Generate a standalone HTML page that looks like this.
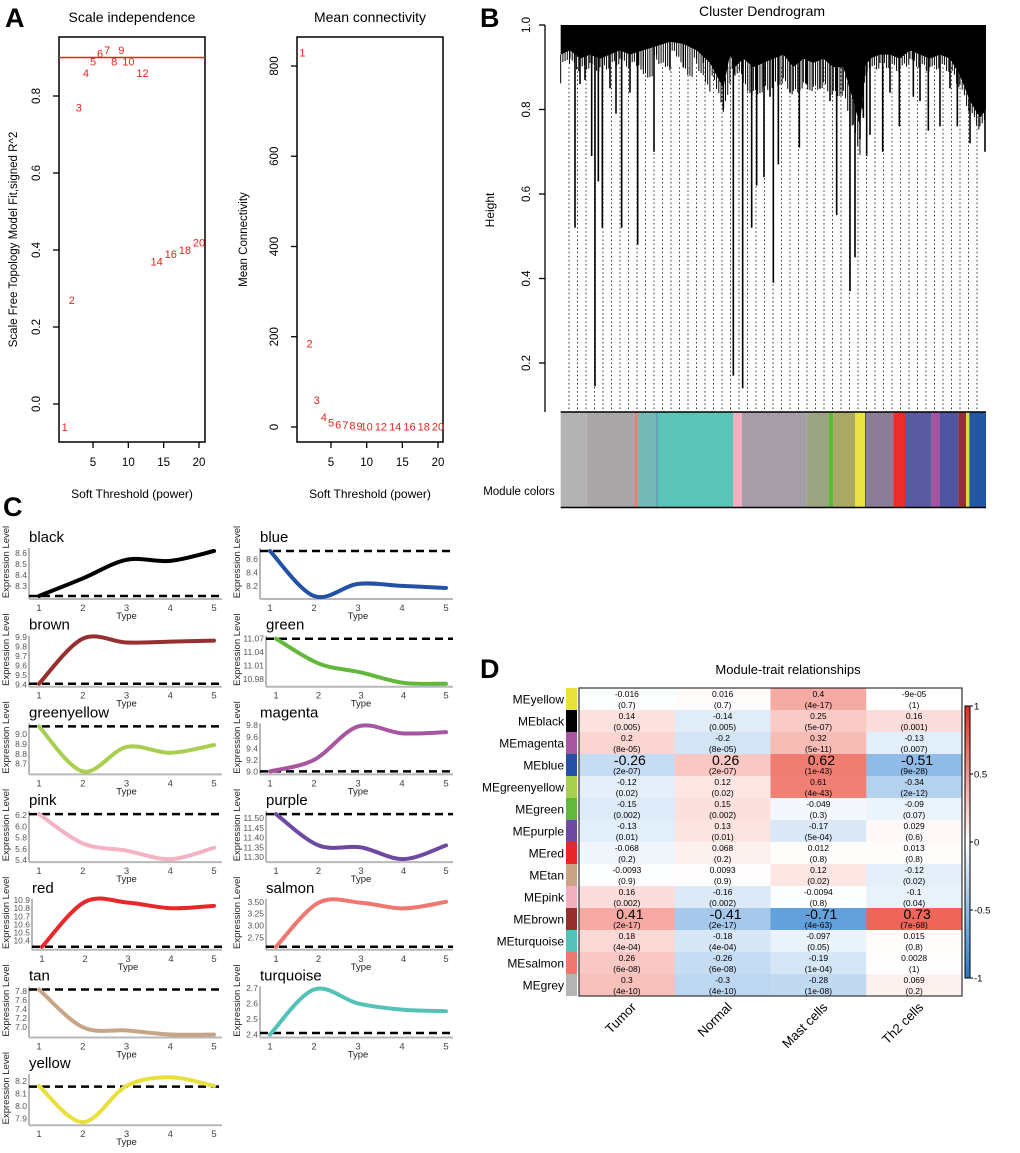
<!DOCTYPE html>
<html><head><meta charset="utf-8"><title>WGCNA figure</title>
<style>
html,body{margin:0;padding:0;background:#fff;}
svg{display:block;font-family:"Liberation Sans",Arial,sans-serif;}
</style></head>
<body>
<svg id="fig" width="1020" height="1153" viewBox="0 0 1020 1153" xmlns="http://www.w3.org/2000/svg">
<rect x="0" y="0" width="1020" height="1153" fill="#fff"/>
<text x="5" y="27" font-size="27" font-weight="bold">A</text>
<text x="480" y="27" font-size="27" font-weight="bold">B</text>
<text x="3" y="516" font-size="27" font-weight="bold">C</text>
<text x="480" y="678" font-size="27" font-weight="bold">D</text>
<g id="gA"></g>
<g id="gB"></g>
<g id="gC"></g>
<g id="gD"></g>
</svg>
<script>
// ---------- Panel A data ----------
const powers = [1,2,3,4,5,6,7,8,9,10,12,14,16,18,20];
const r2Values = [-0.06,0.27,0.77,0.86,0.89,0.91,0.92,0.89,0.92,0.89,0.86,0.37,0.39,0.40,0.42];
const connValues = [830,185,60,22,10,5,4,3,2,1.5,1.2,1,1,1,1];
const r2Ticks = [0.0,0.2,0.4,0.6,0.8];
const connTicks = [0,200,400,600,800];
const powerTicks = [5,10,15,20];
const r2Cutoff = 0.9;

// ---------- Panel B data ----------
const dropX = [375,790,818,910,1140,1155,503,315,397,455,1100,845,860,882,385,552,988,925,1190,1238,1500,1545,365,1375,1288,1410,1462,1200,760,438,330,345,420,480,600,640,700,900,960,1010,1050,1080,1260,1330,1350,1440,1520,1170,1180];
const dropH = [0.145,0.17,0.14,0.39,0.37,0.45,0.48,0.52,0.52,0.52,0.55,0.52,0.62,0.64,0.63,0.70,0.71,0.67,0.69,0.70,0.72,0.70,0.69,0.75,0.76,0.76,0.76,0.74,0.80,0.79,0.86,0.87,0.85,0.84,0.9,0.9,0.91,0.83,0.84,0.86,0.85,0.82,0.84,0.83,0.82,0.85,0.79,0.73,0.78];
const bandX = [272,300,330,360,390,420,450,480,520,560,600,640,680,720,760,780,795,820,850,880,910,940,970,1000,1030,1060,1090,1120,1150,1170,1185,1200,1230,1260,1290,1320,1350,1380,1410,1440,1470,1500,1530,1548];
const bandH = [0.93,0.94,0.92,0.93,0.92,0.93,0.94,0.93,0.94,0.95,0.96,0.955,0.94,0.91,0.85,0.93,0.9,0.92,0.9,0.91,0.92,0.93,0.9,0.92,0.91,0.92,0.9,0.9,0.82,0.76,0.9,0.92,0.93,0.93,0.92,0.94,0.93,0.92,0.93,0.92,0.88,0.82,0.78,0.8];
const heightTicks = [0.2,0.4,0.6,0.8,1.0];
const moduleStart = [272,350,495,503,560,562,790,815,1010,1075,1090,1155,1185,1187,1270,1305,1385,1408,1465,1488,1498];
const moduleColor = ["#b3b3b3","#aba7a8","#ee7770","#74b9b5","#2451a4","#5bc4b9","#f4aec0","#a69fa8","#9ca482","#62b83a","#aaa866","#eae442","#111111","#8d7c98","#ec2b2b","#5a5aa0","#a8539f","#4f55a0","#963030","#cfe040","#2456a6"];

// ---------- Panel C data ----------
const modNames = ["black","blue","brown","green","greenyellow","magenta","pink","purple","red","salmon","tan","turquoise","yellow"];
const modColors = ["#000000","#2451a4","#963030","#62b83a","#a9cf50","#a855a0","#f4b2c2","#6d4aa0","#e8272a","#ee7770","#c9a586","#55c2b8","#e8e03c"];
const exprBlack = [8.21,8.37,8.54,8.53,8.62];
const exprBlue = [8.72,8.05,8.23,8.2,8.17];
const exprBrown = [9.41,9.88,9.84,9.85,9.86];
const exprGreen = [11.07,11.015,10.995,10.972,10.97];
const exprGreenyellow = [9.08,8.62,8.87,8.81,8.89];
const exprMagenta = [9.0,9.2,9.78,9.66,9.68];
const exprPink = [6.22,5.7,5.57,5.42,5.62];
const exprPurple = [11.52,11.36,11.35,11.29,11.36];
const exprRed = [10.32,10.88,10.87,10.8,10.83];
const exprSalmon = [2.55,3.48,3.48,3.36,3.5];
const exprTan = [7.83,7.0,6.93,6.84,6.84];
const exprTurquoise = [2.4,2.69,2.6,2.56,2.55];
const exprYellow = [8.16,7.87,8.16,8.23,8.16];
const exprAll = [exprBlack,exprBlue,exprBrown,exprGreen,exprGreenyellow,exprMagenta,exprPink,exprPurple,exprRed,exprSalmon,exprTan,exprTurquoise,exprYellow];
const dashVals = [8.21,8.72,9.41,11.07,9.08,9.0,6.22,11.52,10.32,2.55,7.83,2.41,8.155];
const tickLabels = [["8.3","8.4","8.5","8.6"],["8.2","8.4","8.6"],["9.4","9.5","9.6","9.7","9.8","9.9"],["10.98","11.01","11.04","11.07"],["8.7","8.8","8.9","9.0"],["9.0","9.2","9.4","9.6","9.8"],["5.4","5.6","5.8","6.0","6.2"],["11.30","11.35","11.40","11.45","11.50"],["10.4","10.5","10.6","10.7","10.8","10.9"],["2.75","3.00","3.25","3.50"],["7.0","7.2","7.4","7.6","7.8"],["2.4","2.5","2.6","2.7"],["7.9","8.0","8.1","8.2"]];
const typeTicks = [1,2,3,4,5];

// ---------- Panel D data ----------
const meNames = ["MEyellow","MEblack","MEmagenta","MEblue","MEgreenyellow","MEgreen","MEpurple","MEred","MEtan","MEpink","MEbrown","MEturquoise","MEsalmon","MEgrey"];
const meColors = ["#e8e03c","#000000","#a855a0","#2451a4","#a9cf50","#62b83a","#6d4aa0","#e8272a","#c9a586","#f2afc0","#963030","#55c2b8","#ee7770","#b4b4b4"];
const traits = ["Tumor","Normal","Mast cells","Th2 cells"];
const corTumor = [-0.016,0.14,0.2,-0.26,-0.12,-0.15,-0.13,-0.068,-0.0093,0.16,0.41,0.18,0.26,0.3];
const corNormal = [0.016,-0.14,-0.2,0.26,0.12,0.15,0.13,0.068,0.0093,-0.16,-0.41,-0.18,-0.26,-0.3];
const corMast = [0.4,0.25,0.32,0.62,0.61,-0.049,-0.17,0.012,0.12,-0.0094,-0.71,-0.097,-0.19,-0.28];
const corTh2 = [-0.00009,0.16,-0.13,-0.51,-0.34,-0.09,0.029,0.013,-0.12,-0.1,0.73,0.015,0.0028,0.069];
const corLabelTh2 = ["-9e-05","0.16","-0.13","-0.51","-0.34","-0.09","0.029","0.013","-0.12","-0.1","0.73","0.015","0.0028","0.069"];
const pTumor = ["0.7","0.005","8e-05","2e-07","0.02","0.002","0.01","0.2","0.9","0.002","2e-17","4e-04","6e-08","4e-10"];
const pNormal = ["0.7","0.005","8e-05","2e-07","0.02","0.002","0.01","0.2","0.9","0.002","2e-17","4e-04","6e-08","4e-10"];
const pMast = ["4e-17","5e-07","5e-11","1e-43","4e-43","0.3","5e-04","0.8","0.02","0.8","4e-63","0.05","1e-04","1e-08"];
const pTh2 = ["1","0.001","0.007","9e-28","2e-12","0.07","0.6","0.8","0.02","0.04","7e-68","0.8","1","0.2"];
const bigRows = [3,10];
const scaleTicks = [1,0.5,0,-0.5,-1];

const NS="http://www.w3.org/2000/svg";
function mk(parent,tag,attrs,text){const e=document.createElementNS(NS,tag);for(const k in attrs)e.setAttribute(k,attrs[k]);if(text!==undefined)e.textContent=text;parent.appendChild(e);return e;}

// ================= Panel A =================
(function(){
  const g=document.getElementById('gA');
  function panel(x0,x1,y0,y1,xs,ys,vals,yTicks,title,ylab,ytx,ylx,nm){
    const gp=mk(g,'g',{});
    
    
    const r=mk(gp,'rect',{x:x0,y:y0,width:x1-x0,height:y1-y0,fill:'none',stroke:'#000','stroke-width':1.5});
    
    
    const t=mk(gp,'text',{x:(x0+x1)/2,y:22,'font-size':14,'text-anchor':'middle'},title);
    
    
    powerTicks.forEach(p=>{const x=xs(p);
      mk(gp,'line',{x1:x,x2:x,y1:y1,y2:y1+6,stroke:'#000','stroke-width':1.3});
      const tl=mk(gp,'text',{x:x,y:y1+24,'font-size':11.5,'text-anchor':'middle'},p);
      
      
    });
    yTicks.forEach(v=>{const y=ys(v);
      mk(gp,'line',{x1:x0,x2:x0-6,y1:y,y2:y,stroke:'#000','stroke-width':1.3});
      const tl=mk(gp,'text',{x:ytx,y:y,'font-size':11.5,'text-anchor':'middle',transform:`rotate(-90 ${ytx} ${y})`},String(v===0&&yTicks[1]<1?'0.0':v));
      
      
    });
    const xl=mk(gp,'text',{x:(x0+x1)/2,y:498,'font-size':12,'text-anchor':'middle'},'Soft Threshold (power)');
    
    
    const cy=(y0+y1)/2;
    const yl=mk(gp,'text',{x:ylx,y:cy,'font-size':11.5,'text-anchor':'middle',transform:`rotate(-90 ${ylx} ${cy})`},ylab);
    
    
    powers.forEach((p,i)=>{
      const tx=mk(gp,'text',{x:xs(p),y:ys(vals[i])+4,'font-size':11,'text-anchor':'middle',fill:'#e8231e'},p);
      
      
    });
    return gp;
  }
  const xs1=p=>93+(p-5)*106/15, ys1=v=>404-v*385;
  const p1=panel(59,205,37,442,xs1,ys1,r2Values,r2Ticks,'Scale independence','Scale Free Topology Model Fit,signed R^2',40,17,'scale-independence-plot');
  const cl=mk(p1,'line',{x1:59,x2:205,y1:ys1(r2Cutoff),y2:ys1(r2Cutoff),stroke:'#e8231e','stroke-width':1.5});
  
  
  const xs2=p=>331+(p-5)*107/15, ys2=v=>427-v*(361/800);
  panel(297,443,37,442,xs2,ys2,connValues,connTicks,'Mean connectivity','Mean Connectivity',278,247,'mean-connectivity-plot');
})();

// ================= Panel B =================
(function(){
  const g=document.getElementById('gB');
  const X=xz=>470+xz/3, Y=h=>25+(1-h)*422.5;
  const t=mk(g,'text',{x:762,y:16,'font-size':14,'text-anchor':'middle'},'Cluster Dendrogram');
  
  
  mk(g,'line',{x1:545,x2:545,y1:Y(1.0),y2:412,stroke:'#000','stroke-width':1.3});
  heightTicks.forEach(v=>{const y=Y(v);
    mk(g,'line',{x1:545,x2:539,y1:y,y2:y,stroke:'#000','stroke-width':1.3});
    const tl=mk(g,'text',{x:530,y:y,'font-size':11.5,'text-anchor':'middle',transform:`rotate(-90 530 ${y})`},v.toFixed(1));
    
    
  });
  const hl=mk(g,'text',{x:494,y:210,'font-size':12,'text-anchor':'middle',transform:'rotate(-90 494 210)'},'Height');
  
  
  // dotted leaf lines
  for(let xz=297;xz<=1546;xz+=25.5){
    mk(g,'line',{x1:X(xz),x2:X(xz),y1:Y(0.9),y2:410,stroke:'#333','stroke-width':1,'stroke-dasharray':'1.5,2.6'});
  }
  // dense top band
  let d=`M${X(272)},${Y(1.0)} `;
  bandX.forEach((xz,i)=>{d+=`L${X(xz)},${Y(bandH[i])} `;});
  d+=`L${X(1548)},${Y(1.0)} Z`;
  const band=mk(g,'path',{d:d,fill:'#000'});
  
  
  // stubs
  for(let i=0;i<bandX.length-1;i++){
    const xa=X(bandX[i]),xb=X(bandX[i+1]);
    for(let x=xa;x<xb;x+=2.2){
      const h=bandH[i]+(bandH[i+1]-bandH[i])*(x-xa)/(xb-xa);
      const off=((Math.floor(x*7)%5)*0.012);
      mk(g,'line',{x1:x,x2:x,y1:Y(h),y2:Y(h-0.02-off),stroke:'#000','stroke-width':1});
    }
  }
  dropX.forEach((xz,i)=>{
    const ln=mk(g,'line',{x1:X(xz),x2:X(xz),y1:Y(0.96),y2:Y(dropH[i]),stroke:'#000','stroke-width':1.6});
    
    
  });
  // color bar
  const ml=mk(g,'text',{x:519,y:495,'font-size':11.5,'text-anchor':'middle'},'Module colors');
  
  
  moduleStart.forEach((s,i)=>{
    const e=i<moduleStart.length-1?moduleStart[i+1]:1548;
    const r=mk(g,'rect',{x:X(s),y:412,width:Math.max(X(e)-X(s),0.6),height:95,fill:moduleColor[i]});
    
    
  });
  mk(g,'line',{x1:X(272),x2:X(1548),y1:412,y2:412,stroke:'#000','stroke-width':1.5});
  mk(g,'line',{x1:X(272),x2:X(1548),y1:507.5,y2:507.5,stroke:'#000','stroke-width':1.5});
})();

// ================= Panel C =================
(function(){
  const g=document.getElementById('gC');
  const longRight={green:1,purple:1,salmon:1};
  modNames.forEach((nm,k)=>{
    const col=k%2, row=Math.floor(k/2);
    const axisY=599+87.7*row, top=axisY-51;
    let axisX, x1p, right;
    if(col===0){axisX=nm==='red'?32:29; x1p=axisX+10; right=222;}
    else{axisX=longRight[nm]?266:260; x1p=axisX+10; right=453;}
    const x5p=col===0?214:446;
    const xs=t=>x1p+(t-1)*(x5p-x1p)/4;
    const vals=exprAll[k];
    let lo=Math.min(...vals,dashVals[k]), hi=Math.max(...vals,dashVals[k]);
    const ys=v=>axisY-3-(v-lo)/(hi-lo)*(axisY-3-top-3);
    const gp=mk(g,'g',{});
    
    
    const tt=mk(gp,'text',{x:axisX,y:axisY-57,'font-size':15},nm);
    
    
    mk(gp,'line',{x1:axisX,x2:axisX,y1:top,y2:axisY,stroke:'#b8b8b8','stroke-width':2});
    mk(gp,'line',{x1:axisX,x2:right,y1:axisY,y2:axisY,stroke:'#b8b8b8','stroke-width':2});
    tickLabels[k].forEach(s=>{const v=parseFloat(s);const y=ys(v);
      if(y<top-4||y>axisY+3)return;
      const tl=mk(gp,'text',{x:axisX-2,y:y+3,'font-size':8.5,'text-anchor':'end',fill:'#555'},s);
      
      
    });
    typeTicks.forEach(t=>{
      const tl=mk(gp,'text',{x:xs(t),y:axisY+12,'font-size':9.5,'text-anchor':'middle',fill:'#444'},t);
      
      
    });
    const tx=mk(gp,'text',{x:xs(3),y:axisY+20,'font-size':9.5,'text-anchor':'middle',fill:'#222'},'Type');
    
    
    const lx=col===0?9:240, ly=axisY-37;
    const el=mk(gp,'text',{x:lx,y:ly,'font-size':9.5,'text-anchor':'middle',fill:'#222',transform:`rotate(-90 ${lx} ${ly})`},'Expression Level');
    
    
    const dy=ys(dashVals[k]);
    const dl=mk(gp,'line',{x1:axisX,x2:right,y1:dy,y2:dy,stroke:'#000','stroke-width':2.5,'stroke-dasharray':'8,5'});
    
    
    const pts=vals.map((v,i)=>[xs(i+1),ys(v)]);
    let d=`M${pts[0][0]},${pts[0][1]}`;
    for(let i=0;i<pts.length-1;i++){
      const p0=pts[Math.max(i-1,0)],p1=pts[i],p2=pts[i+1],p3=pts[Math.min(i+2,pts.length-1)];
      const c1=[p1[0]+(p2[0]-p0[0])/6,p1[1]+(p2[1]-p0[1])/6];
      const c2=[p2[0]-(p3[0]-p1[0])/6,p2[1]-(p3[1]-p1[1])/6];
      d+=` C${c1[0]},${c1[1]} ${c2[0]},${c2[1]} ${p2[0]},${p2[1]}`;
    }
    const ln=mk(gp,'path',{d:d,fill:'none',stroke:modColors[k],'stroke-width':4,'stroke-linecap':'round'});
    
    
  });
})();

// ================= Panel D =================
(function(){
  const g=document.getElementById('gD');
  const x0=579,x1=962,y0=688,y1=996;
  const cw=(x1-x0)/4, rh=(y1-y0)/14;
  const cols=[corTumor,corNormal,corMast,corTh2];
  const ps=[pTumor,pNormal,pMast,pTh2];
  function color(v){
    const t=Math.min(Math.abs(v),1);
    const e=v>=0?[230,45,28]:[35,122,205];
    const c=e.map(c=>Math.round(255+(c-255)*t));
    return `rgb(${c[0]},${c[1]},${c[2]})`;
  }
  function fmt(v){return String(v);}
  const tt=mk(g,'text',{x:788,y:674,'font-size':13,'text-anchor':'middle'},'Module-trait relationships');
  
  
  meNames.forEach((nm,r)=>{
    const y=y0+r*rh;
    const sw=mk(g,'rect',{x:566,y:y,width:11,height:rh,fill:meColors[r]});
    
    
    const lb=mk(g,'text',{x:564,y:y+rh/2+4.5,'font-size':12,'text-anchor':'end'},nm);
    
    
    cols.forEach((arr,c)=>{
      const x=x0+c*cw;
      const cell=mk(g,'rect',{x:x,y:y,width:cw+0.5,height:rh+0.5,fill:color(arr[r])});
      
      
      const big=bigRows.includes(r);
      const lab=c===3?corLabelTh2[r]:fmt(arr[r]);
      const v=mk(g,'text',{x:x+cw/2+(big?3:0),y:big?y+11:y+9,'font-size':big?14:8.5,'text-anchor':'middle'},lab);
      
      
      const p=mk(g,'text',{x:x+cw/2,y:y+20,'font-size':8.5,'text-anchor':'middle'},'('+ps[c][r]+')');
      
      
    });
  });
  mk(g,'rect',{x:x0,y:y0,width:x1-x0,height:y1-y0,fill:'none',stroke:'#333','stroke-width':1.2});
  traits.forEach((t,c)=>{
    const cx=x0+c*cw+cw/2+10, cy=1008;
    const tl=mk(g,'text',{x:cx,y:cy,'font-size':13,'text-anchor':'end',transform:`rotate(-45 ${cx} ${cy})`},t);
    
    
  });
  const defs=mk(g,'defs',{});
  const lg=mk(defs,'linearGradient',{id:'cbar',x1:0,y1:0,x2:0,y2:1});
  [[0,color(1)],[0.5,'#ffffff'],[1,color(-1)]].forEach(s=>mk(lg,'stop',{offset:s[0],'stop-color':s[1]}));
  const cb=mk(g,'rect',{x:965,y:706,width:5,height:272,fill:'url(#cbar)',stroke:'#000','stroke-width':1});
  
  
  scaleTicks.forEach(v=>{
    const y=706+(1-v)/2*272;
    mk(g,'line',{x1:970,x2:973,y1:y,y2:y,stroke:'#000','stroke-width':1});
    const tl=mk(g,'text',{x:974,y:y+3.5,'font-size':9.5},String(v));
    
    
  });
})();
</script>
</body></html>
